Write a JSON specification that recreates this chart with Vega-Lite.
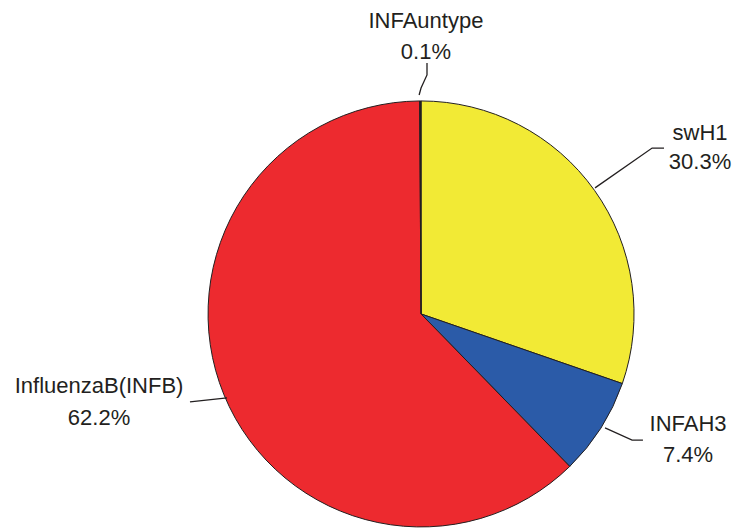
{
  "$schema": "https://vega.github.io/schema/vega-lite/v6.json",
  "width": 739,
  "height": 528,
  "padding": 0,
  "autosize": {"type": "none"},
  "background": "white",
  "config": {"view": {"stroke": null}},
  "datasets": {
    "slices": [
      {"name": "swH1", "pct": 30.3, "idx": 1},
      {"name": "INFAH3", "pct": 7.4, "idx": 2},
      {"name": "InfluenzaB(INFB)", "pct": 62.2, "idx": 3},
      {"name": "INFAuntype", "pct": 0.1, "idx": 4}
    ],
    "leaders": [
      {"grp": "swH1", "seq": 1, "lx": 0.817, "ly": 0.592},
      {"grp": "swH1", "seq": 2, "lx": 1.085, "ly": 0.779},
      {"grp": "swH1", "seq": 3, "lx": 1.141, "ly": 0.779},
      {"grp": "INFAH3", "seq": 1, "lx": 0.864, "ly": -0.535},
      {"grp": "INFAH3", "seq": 2, "lx": 0.991, "ly": -0.592},
      {"grp": "INFAH3", "seq": 3, "lx": 1.042, "ly": -0.592},
      {"grp": "InfluenzaB", "seq": 1, "lx": -0.911, "ly": -0.394},
      {"grp": "InfluenzaB", "seq": 2, "lx": -1.085, "ly": -0.413},
      {"grp": "INFAuntype", "seq": 1, "lx": -0.009, "ly": 1.028},
      {"grp": "INFAuntype", "seq": 2, "lx": 0.0, "ly": 1.061},
      {"grp": "INFAuntype", "seq": 3, "lx": 0.028, "ly": 1.122},
      {"grp": "INFAuntype", "seq": 4, "lx": 0.028, "ly": 1.178}
    ],
    "labels": [
      {"txt": "swH1", "lx": 1.31, "ly": 0.85},
      {"txt": "30.3%", "lx": 1.31, "ly": 0.714},
      {"txt": "INFAH3", "lx": 1.254, "ly": -0.516},
      {"txt": "7.4%", "lx": 1.254, "ly": -0.662},
      {"txt": "InfluenzaB(INFB)", "lx": -1.512, "ly": -0.338},
      {"txt": "62.2%", "lx": -1.512, "ly": -0.488},
      {"txt": "INFAuntype", "lx": 0.023, "ly": 1.376},
      {"txt": "0.1%", "lx": 0.023, "ly": 1.23}
    ]
  },
  "layer": [
    {
      "data": {"name": "slices"},
      "mark": {"type": "arc", "outerRadius": 213, "stroke": "#231F20", "strokeWidth": 1},
      "encoding": {
        "x": {"datum": 0, "type": "quantitative", "scale": {"domain": [-1.977, 1.493], "nice": false, "zero": false}, "axis": null},
        "y": {"datum": 0, "type": "quantitative", "scale": {"domain": [-1.005, 1.474], "nice": false, "zero": false}, "axis": null},
        "theta": {"field": "pct", "type": "quantitative", "stack": true},
        "order": {"field": "idx", "type": "quantitative"},
        "color": {
          "field": "name", "type": "nominal", "legend": null,
          "scale": {
            "domain": ["swH1", "INFAH3", "InfluenzaB(INFB)", "INFAuntype"],
            "range": ["#F2EA35", "#2B5BA8", "#ED2A2F", "#231F20"]
          }
        }
      }
    },
    {
      "data": {"name": "leaders"},
      "mark": {"type": "line", "color": "#231F20", "strokeWidth": 1.3},
      "encoding": {
        "x": {"field": "lx", "type": "quantitative", "axis": null},
        "y": {"field": "ly", "type": "quantitative", "axis": null},
        "detail": {"field": "grp"},
        "order": {"field": "seq", "type": "quantitative"}
      }
    },
    {
      "data": {"name": "labels"},
      "mark": {"type": "text", "font": "Liberation Sans", "fontSize": 22, "color": "#231F20", "align": "center", "baseline": "middle"},
      "encoding": {
        "x": {"field": "lx", "type": "quantitative", "axis": null},
        "y": {"field": "ly", "type": "quantitative", "axis": null},
        "text": {"field": "txt"}
      }
    }
  ]
}
